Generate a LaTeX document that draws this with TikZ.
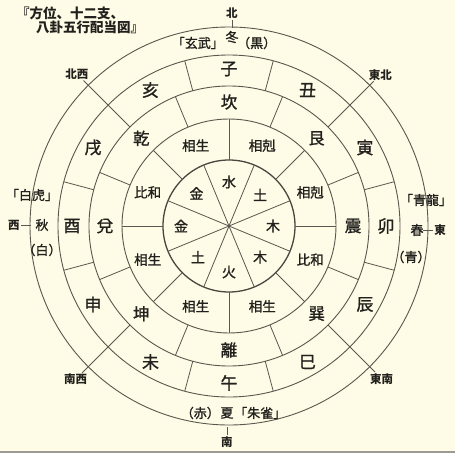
\documentclass[tikz,border=0pt]{standalone}
\usepackage{fontspec}
\setmainfont{Noto Sans CJK JP}
\newfontfamily\heavy{Noto Sans CJK JP}[FakeBold=1.2]
\usetikzlibrary{positioning}
\definecolor{paper}{RGB}{254,252,230}
\definecolor{ink}{RGB}{34,32,28}
\definecolor{rule}{RGB}{90,87,78}

\begin{document}
\begin{tikzpicture}[
   x=1pt,y=1pt,
   ring/.style={draw=rule,line width=0.9pt},
   inring/.style={draw=rule!80!black,line width=1.3pt},
   spoke/.style={draw=rule,line width=0.8pt},
   branch/.style={text=ink,font=\heavy\fontsize{17}{17}\selectfont,inner sep=0pt},
   trigram/.style={text=ink,font=\heavy\fontsize{16.5}{16.5}\selectfont,inner sep=0pt},
   relation/.style={text=ink,font=\heavy\fontsize{13.5}{13.5}\selectfont,inner sep=0pt},
   element/.style={text=ink,font=\heavy\fontsize{14}{14}\selectfont,inner sep=0pt},
   season/.style={text=ink,font=\heavy\fontsize{13}{13}\selectfont,inner sep=0pt},
   compass/.style={text=ink,font=\fontsize{11.5}{11.5}\selectfont\bfseries,inner sep=1pt},
   heading/.style={text=ink,font=\fontsize{13.5}{13.5}\selectfont\bfseries,inner sep=0pt,anchor=west}]
\fill[paper] (-229,-227) rectangle (226,226);
\useasboundingbox (-229,-227) rectangle (226,226);
\fill[rule!60] (-229,-227) rectangle (226,-224.8);
\coordinate (c) at (0,0);

% rings
\draw[ring] (c) circle (199);
\draw[ring] (c) circle (171);
\draw[ring] (c) circle (140);
\draw[ring] (c) circle (107);
\draw[inring] (c) circle (66);

% five phases
\draw[spoke] (c) -- (22.5:66);
\draw[spoke] (c) -- (67.5:66);
\draw[spoke] (c) -- (112.5:66);
\draw[spoke] (c) -- (157.5:66);
\draw[spoke] (c) -- (202.5:66);
\draw[spoke] (c) -- (247.5:66);
\draw[spoke] (c) -- (292.5:66);
\draw[spoke] (c) -- (337.5:66);
\node[element] (w) at (90:44) {水};
\node[element] (e1) at (45:44) {土};
\node[element] (t1) at (0:44) {木};
\node[element] (t2) at (-45:44) {木};
\node[element] (f) at (-90:46) {火};
\node[element] (e2) at (-135:44) {土};
\node[element] (m1) at (180:48) {金};
\node[element] (m2) at (135:46) {金};

% relations
\draw[spoke] (0:66) -- (0:107);
\draw[spoke] (45:66) -- (45:107);
\draw[spoke] (90:66) -- (90:107);
\draw[spoke] (135:66) -- (135:107);
\draw[spoke] (180:66) -- (180:107);
\draw[spoke] (225:66) -- (225:107);
\draw[spoke] (270:66) -- (270:107);
\draw[spoke] (315:66) -- (315:107);
\node[relation] (r1) at (112.5:87) {相生};
\node[relation] (r2) at (67.5:87) {相剋};
\node[relation] (r3) at (22.5:88) {相剋};
\node[relation] (r4) at (-22.5:88) {比和};
\node[relation] (r5) at (-67.5:87) {相生};
\node[relation] (r6) at (-112.5:87) {相生};
\node[relation] (r7) at (-157.5:88) {相生};
\node[relation] (r8) at (157.5:88) {比和};

% trigrams
\draw[spoke] (22.5:107) -- (22.5:140);
\draw[spoke] (67.5:107) -- (67.5:140);
\draw[spoke] (112.5:107) -- (112.5:140);
\draw[spoke] (157.5:107) -- (157.5:140);
\draw[spoke] (202.5:107) -- (202.5:140);
\draw[spoke] (247.5:107) -- (247.5:140);
\draw[spoke] (292.5:107) -- (292.5:140);
\draw[spoke] (337.5:107) -- (337.5:140);
\node[trigram] (kan) at (90:124) {坎};
\node[trigram] (gen) at (45:124) {艮};
\node[trigram] (zhen) at (0:124) {震};
\node[trigram] (xun) at (-45:124) {巽};
\node[trigram] (li) at (-90:124) {離};
\node[trigram] (kun) at (-135:124) {坤};
\node[trigram] (dui) at (180:124) {兌};
\node[trigram] (qian) at (135:124) {乾};

% branches
\draw[spoke] (15:140) -- (15:171);
\draw[spoke] (75:140) -- (75:171);
\draw[spoke] (105:140) -- (105:171);
\draw[spoke] (165:140) -- (165:171);
\draw[spoke] (195:140) -- (195:171);
\draw[spoke] (255:140) -- (255:171);
\draw[spoke] (285:140) -- (285:171);
\draw[spoke] (345:140) -- (345:171);
\node[branch] (zi) at (90:157) {子};
\node[branch] (chou) at (60:157) {丑};
\node[branch] (yin) at (30:157) {寅};
\node[branch] (mao) at (0:157) {卯};
\node[branch] (chen) at (-30:157) {辰};
\node[branch] (si) at (-60:157) {巳};
\node[branch] (wu) at (-90:157) {午};
\node[branch] (wei) at (-120:157) {未};
\node[branch] (shen) at (-150:157) {申};
\node[branch] (you) at (180:157) {酉};
\node[branch] (xu) at (150:157) {戌};
\node[branch] (hai) at (120:157) {亥};

% seasons
\node[season] (winter) at (3,189) {冬};
\node[season,anchor=east] (xuanwu) at (-5,183) {「玄武」};
\node[season,anchor=west] (black) at (8,183) {（黒）};
\node[season] (spring) at (188,-4) {春};
\node[season] (qinglong) at (197,26) {「青龍」};
\node[season] (blue) at (182,-31) {（青）};
\node[season] (summer) at (-2,-187) {夏};
\node[season,anchor=east] (red) at (-9,-187) {（赤）};
\node[season,anchor=west] (zhuque) at (5,-187) {「朱雀」};
\node[season] (autumn) at (-187,1) {秋};
\node[season] (baihu) at (-197,31) {「白虎」};
\node[season] (white) at (-187,-24) {（白）};

% directions
\node[compass] (n) at (3,213) {北};
\node[compass] (ne) at (45:214) {東北};
\node[compass] (e) at (211,-4) {東};
\node[compass] (se) at (-45:216) {東南};
\node[compass] (s) at (-2,-216) {南};
\node[compass] (sw) at (-135:217) {南西};
\node[compass] (wd) at (-215,1) {西};
\node[compass] (nw) at (135:215) {北西};
\draw[spoke] (n.south) -- ++(0,-8);
\draw[spoke] (e.west) -- ++(-10,0);
\draw[spoke] (s.north) -- ++(0,8);
\draw[spoke] (wd.east) -- ++(10,0);
\draw[spoke] (45:140) -- (ne);
\draw[spoke] (-45:140) -- (se);
\draw[spoke] (-135:140) -- (sw);
\draw[spoke] (135:140) -- (nw);

% title
\node[heading] (title1) at (-213,213) {『方位、十二支、};
\node[heading] (title2) at (-193,199) {八卦五行配当図』};
\end{tikzpicture}
\end{document}
